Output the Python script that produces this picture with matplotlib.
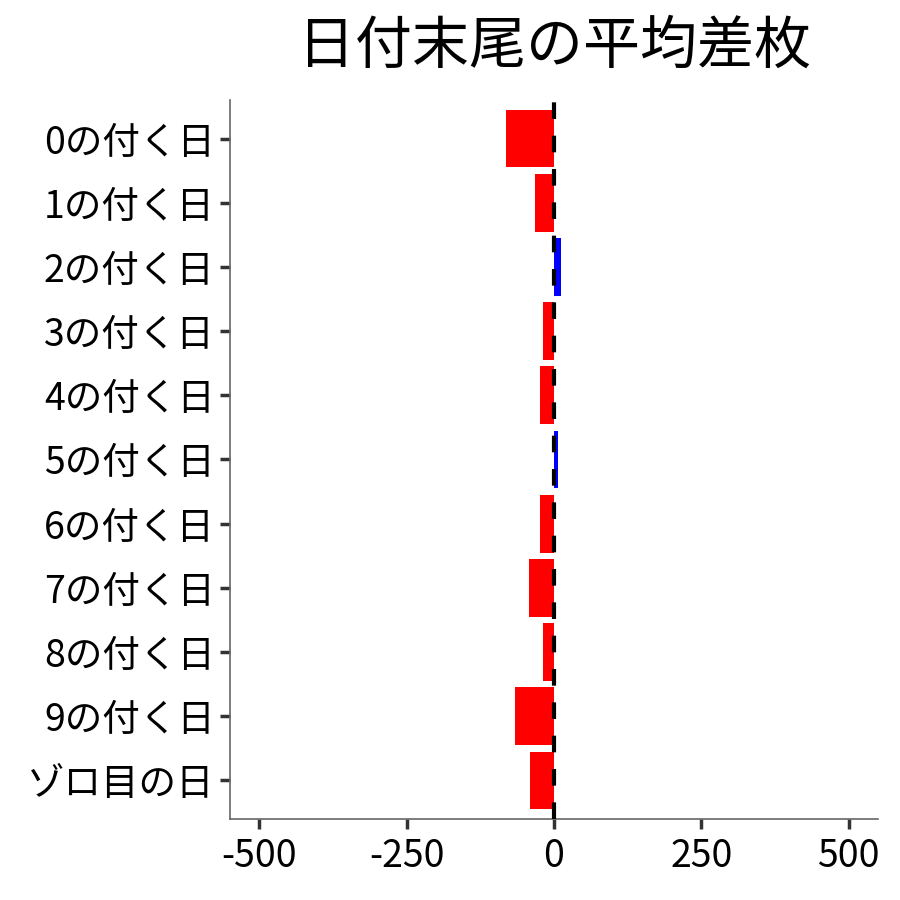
import numpy as np
import matplotlib
matplotlib.use("Agg")
import matplotlib.pyplot as plt

plt.rcParams['font.family'] = ['Noto Sans CJK JP', 'DejaVu Sans']

labels = ['0の付く日', '1の付く日', '2の付く日', '3の付く日', '4の付く日', '5の付く日',
          '6の付く日', '7の付く日', '8の付く日', '9の付く日', 'ゾロ目の日']
values = [-82, -33, 12, -19, -23, 6, -23, -43, -19, -67, -40]

colors = ['blue' if v > 0 else 'red' for v in values]
ypos = np.arange(len(labels))[::-1] + 1

fig = plt.figure(figsize=(9, 9), dpi=100)
ax = fig.add_axes([0.2556, 0.09, 0.72, 0.7989])

ax.barh(ypos, values, height=0.9, color=colors, zorder=2)
ax.axvline(0, color='black', linewidth=3, linestyle=(0, (4, 4)), zorder=3)

ax.set_xlim(-550, 550)
ax.set_ylim(0.4, len(labels) + 0.6)
ax.set_xticks([-500, -250, 0, 250, 500])
ax.set_xticklabels(['-500', '-250', '0', '250', '500'])
ax.set_yticks(ypos)
ax.set_yticklabels(labels)

for s in ['top', 'right']:
    ax.spines[s].set_visible(False)
for s in ['left', 'bottom']:
    ax.spines[s].set_color('#666666')
    ax.spines[s].set_linewidth(1.2)

ax.tick_params(axis='both', length=7, width=2.5, color='#333333', labelsize=27,
               labelcolor='black')
ax.tick_params(axis='y', pad=4)
ax.tick_params(axis='x', pad=6)

fig.text(0.6156, 0.948, '日付末尾の平均差枚', fontsize=41, ha='center', va='center')

fig.savefig('out.png', dpi=100)
